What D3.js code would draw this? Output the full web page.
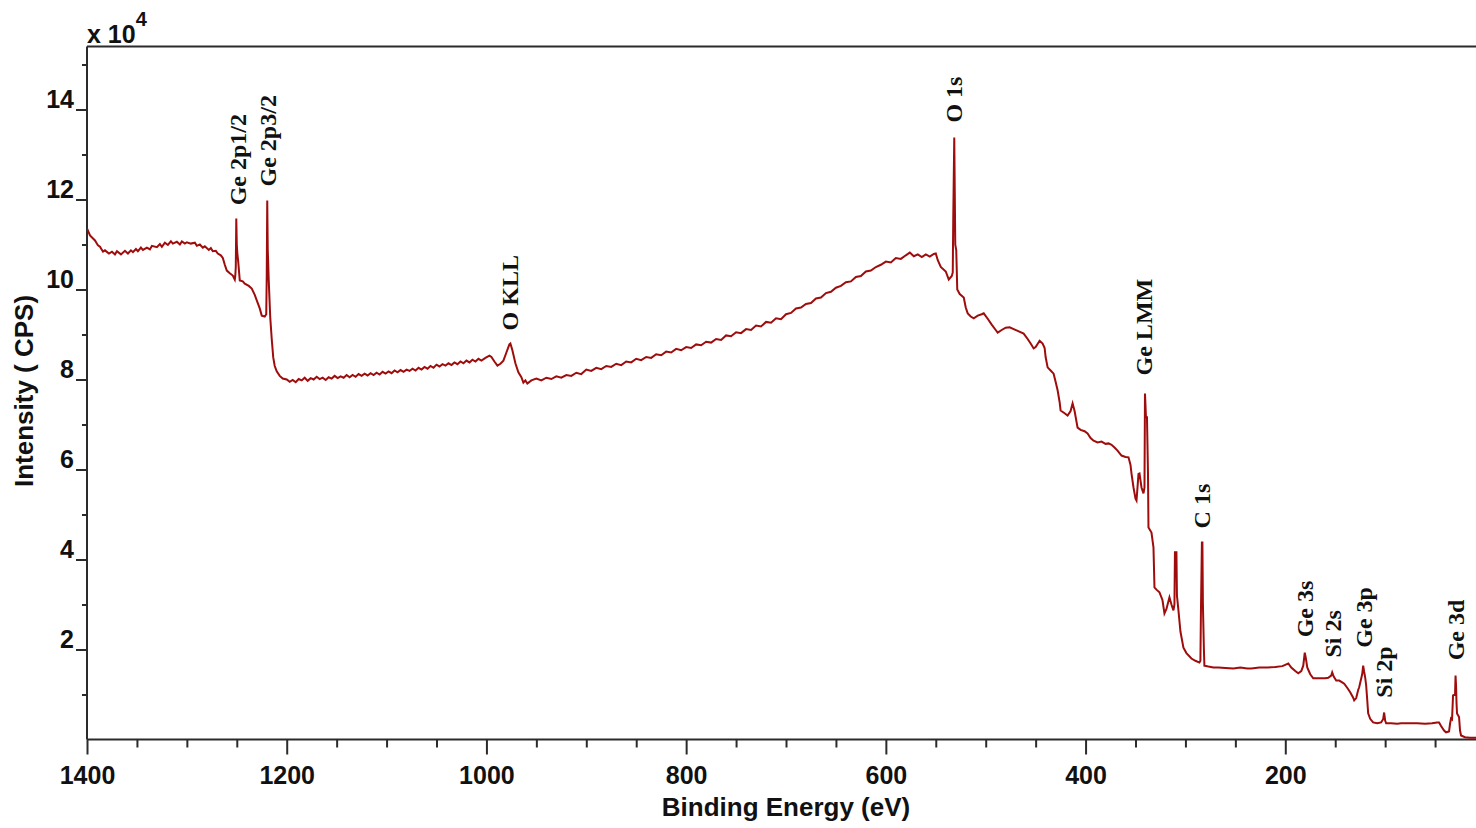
<!DOCTYPE html>
<html><head><meta charset="utf-8">
<script src="https://cdn.jsdelivr.net/npm/d3@7/dist/d3.min.js"></script>
<style>
html,body{margin:0;padding:0;background:#fff;}
svg{display:block;}
</style></head><body>
<svg id="chart" width="1476" height="828"></svg>
<script>
// Spectrum: [binding energy (eV), intensity (x10^4 CPS)]
const spectrumHigh = [
[1400,11.36],[1397,11.2],[1392,11.09],[1389,10.98],[1387,10.95],[1384,10.84],[1382,10.87],[1378,10.8],[1375,10.84],[1372,10.78],[1370,10.85],
[1366,10.78],[1362,10.86],[1359,10.8],[1356,10.87],[1354,10.83],[1351,10.9],[1349,10.85],[1346,10.93],[1344,10.88],[1340,10.93],[1337,10.89],[1335,10.97],
[1330,10.94],[1327,11.01],[1325,10.95],[1322,11.04],[1319,10.99],[1316,11.07],[1314,11.02],[1310,11.06],[1307,11.0],[1305,11.07],[1302,11.02],[1300,11.05],[1296,11.02],
[1292,11.04],[1290,10.97],[1287,11.0],[1284,10.93],[1282,10.96],[1278,10.88],[1276,10.92],[1274,10.85],[1271,10.86],[1269,10.8],[1266,10.76],[1264,10.7],
[1262,10.55],[1260,10.42],[1257,10.36],[1254,10.31],[1252,10.22],[1251.5,10.3],[1251,10.5],[1250.5,11.58],
[1250,11.0],[1249.5,10.82],[1248.5,10.6],[1247,10.2],[1244,10.18],[1242,10.13],[1238,10.08],[1235,10.02],
[1232,9.88],[1230,9.76],[1227,9.58],[1225,9.42],[1222,9.4],[1220.5,9.45],[1220,10.31],[1219.5,11.98],
[1219,10.9],[1218,10.2],[1216.5,9.38],[1215,8.9],[1213.5,8.49],[1212,8.3],[1210,8.18],[1207,8.08],
[1204,8.02],[1200,8.0],[1197,7.95],[1194,7.99],[1191,7.94],[1188,8.01],[1185,7.98],[1182,8.04],[1179,7.97],
[1176,8.03],[1173,8.0],[1170,8.06],[1167,8.01],[1164,8.04],[1161,7.99],[1158,8.05],[1155,8.02],[1152,8.08],
[1149,8.03],[1146,8.07],[1143,8.04],[1140,8.1],[1137,8.05],[1134,8.1],[1131,8.06],[1128,8.12],[1125,8.08],
[1122,8.13],[1119,8.09],[1116,8.14],[1113,8.1],[1110,8.15],[1107,8.11],[1104,8.17],[1101,8.13],[1098,8.18],
[1095,8.14],[1092,8.2],[1089,8.16],[1086,8.21],[1083,8.17],[1080,8.22],[1077,8.19],[1074,8.24],[1071,8.2],
[1068,8.26],[1065,8.22],[1062,8.28],[1059,8.24],[1056,8.3],[1053,8.26],[1050,8.33],[1047,8.29],[1044,8.34],
[1041,8.31],[1038,8.36],[1035,8.32],[1032,8.38],[1029,8.34],[1026,8.4],[1023,8.36],[1020,8.42],[1017,8.38],
[1014,8.44],[1011,8.4],[1008,8.46],[1005,8.42],[1001,8.48],[997,8.53],[995,8.5],[992,8.4],[989,8.31],
[986,8.35],[983,8.42],[980,8.6],[977,8.78],[976,8.8],[974,8.65],[971,8.36],[968,8.16],[965,8.05],
[963,7.93],[961,7.98],[959,7.91],[955,7.98]
];
const spectrumMid = [
[950,8.02],[945,7.98],[940,8.04],[935,8.01],[930,8.07],[925,8.04],[920,8.1],[915,8.08],[910,8.15],[905,8.12],
[900,8.22],[895,8.19],[890,8.26],[885,8.23],[880,8.3],[875,8.28],[870,8.35],[865,8.32],[860,8.4],[855,8.38],
[850,8.46],[845,8.43],[840,8.5],[835,8.48],[830,8.56],[825,8.54],[820,8.62],[815,8.6],[810,8.68],[805,8.65],
[800,8.72],[795,8.7],[790,8.78],[785,8.76],[780,8.84],[775,8.82],[770,8.9],[765,8.88],[760,8.98],[755,8.96],
[750,9.05],[745,9.03],[740,9.12],[735,9.1],[730,9.2],[725,9.18],[720,9.28],[715,9.26],[710,9.36],[705,9.34],
[700,9.45],[695,9.48],[690,9.58],[685,9.6],[680,9.68],[675,9.7],[670,9.8],[665,9.82],[660,9.92],[655,9.95],
[650,10.04],[645,10.08],[640,10.16],[635,10.18],[630,10.28],[625,10.3],[620,10.4],[615,10.42],[610,10.5],
[605,10.55],[600,10.62],[595,10.6],[590,10.7],[585,10.68],[580,10.76],[576,10.82],[572,10.74],[568,10.78],
[564,10.72],[560,10.78],[556,10.73],[552,10.79],[550,10.8],[548,10.65],
[545,10.5],[540,10.4],[537,10.22],[534,10.3],[533,10.38],[532.5,11.6],[531.5,13.38],[530.5,11.0],
[529.5,10.87],[528.5,10.0],[526,9.9],[522,9.82],[520,9.6],[518,9.47],[515,9.4],[512,9.36],[508,9.42],
[504,9.45],[502,9.47],[498,9.35],[494,9.22],[490,9.1],[488,9.04],[484,9.1],[480,9.15],[476,9.16],
[472,9.12],[468,9.08],[462,9.02],[458,8.9],[455,8.8],[452,8.69],[450,8.72],[446,8.86],[443,8.8],[441,8.7]
];
const spectrumLow = [
[440,8.5],[438,8.27],[435,8.2],[432,8.13],[430,7.95],[428,7.76],[426,7.5],[425,7.31],[421,7.25],
[418,7.2],[415,7.3],[413,7.47],[411,7.3],[408,6.93],[405,6.88],[401,6.85],[398,6.8],[395,6.7],
[392,6.64],[388,6.6],[384,6.62],[380,6.57],[377,6.58],[374,6.55],[371,6.49],[368,6.42],[364,6.31],
[360,6.28],[357,6.27],[355,6.1],[354,5.91],[352,5.6],[350,5.35],[349,5.31],[348,5.6],[347,5.9],
[346,5.91],[344,5.6],[342,5.47],[341,5.6],[340.5,7.69],[339.5,7.16],[338.5,7.16],[337.5,5.91],[337,4.71],
[334,4.6],[332,4.27],[331,3.38],[329,3.33],[326,3.27],[323,3.1],[321,2.8],[319,2.9],[316,3.16],
[314,3.0],[312,2.87],[311,3.0],[310.5,4.16],[309,4.16],[308.5,3.2],[307,2.87],[305,2.4],[302,2.04],
[299,1.92],[294,1.8],[290,1.75],[286,1.71],[285,1.75],[284.5,2.8],[283.5,4.38],[283,4.38],[282.5,3.02],
[281.5,2.0],[281,1.64],[277,1.62],[272,1.6],[267,1.6],[260,1.59],[252,1.58],[245,1.6],[238,1.58],
[234,1.58],[226,1.6],[218,1.6],[210,1.61],[203,1.63],[200,1.66],[197,1.69],[194,1.6],[190,1.52],
[187,1.47],[184,1.52],[182,1.64],[180.5,1.93],[179.5,1.82],[178,1.6],[177,1.55],[175,1.45],[172,1.36],
[168,1.36],[164,1.36],[160,1.36],[157,1.37],[154,1.42],[153,1.49],[151.5,1.4],[149,1.31],[146,1.31],
[143,1.27],[141,1.24],[138,1.15],[135,1.05],[132,0.93],[131,0.87],[129,0.92],[127,1.1],[126,1.16],
[123,1.45],[122,1.64],[121,1.5],[120,1.38],[119,1.2],[118,0.9],[117,0.58],[115,0.46],[112,0.38],
[108,0.36],[104,0.38],[102,0.45],[101,0.6],[100,0.42],[99,0.36],[94,0.36],[88,0.35],[84,0.36],
[76,0.36],[68,0.36],[60,0.35],[53,0.36],[48,0.38],[46,0.38],[44,0.3],[41,0.2],[39,0.16],[36,0.18],
[35,0.35],[34,0.47],[33,0.45],[32,0.98],[30,1.0],[29.5,1.42],[29,1.2],[28.5,0.8],[28,0.58],[26,0.5],
[25,0.2],[24,0.09],[20,0.05],[15,0.04],[8,0.04]
];

// Peak annotations
const peakNames = ["Ge 2p1/2","Ge 2p3/2","O KLL","O 1s","Ge LMM","C 1s","Ge 3s","Si 2s","Ge 3p","Si 2p","Ge 3d"];
const peakBE    = [1248.8, 1218.7, 976.4, 531.8, 341.5, 283.4, 180.3, 152.7, 121.2, 101.2, 29.1];
const peakLabelLevel = [11.87, 12.29, 9.09, 13.71, 8.09, 4.69, 2.27, 1.82, 2.04, 0.93, 1.76];

// Axis ticks
const xMajorTicks = [1400,1200,1000,800,600,400,200];
const xMinorTicks = [1350,1300,1250,1150,1100,1050,950,900,850,750,700,650,550,500,450,350,300,250,150,100,50];
const yMajorTicks = [2,4,6,8,10,12,14];
const yMinorTicks = [1,3,5,7,9,11,13,15];

(function draw() {
const svg = d3.select("#chart");
const pLeft = 87, pTop = 46.5, pBottom = 739.5;
const x = d3.scaleLinear().domain([1400, 0]).range([pLeft, 1485]);
const y = d3.scaleLinear().domain([0, 15.4]).range([pBottom, pTop]);

const axisColor = "#2b2b2b";
const lineColor = "#9e0c0c";
const sansFont = "'Liberation Sans', Arial, sans-serif";
const serifFont = "'Liberation Serif', 'Times New Roman', serif";

// top border
svg.append("line").attr("x1", pLeft).attr("x2", 1476).attr("y1", pTop).attr("y2", pTop)
  .attr("stroke", axisColor).attr("stroke-width", 2);

// x axis
const gx = svg.append("g").attr("transform", `translate(0,${pBottom})`);
gx.call(d3.axisBottom(x).tickValues(xMinorTicks).tickSize(8).tickSizeOuter(0).tickFormat(""));
gx.select(".domain").remove();
const gx2 = svg.append("g").attr("transform", `translate(0,${pBottom})`);
gx2.call(d3.axisBottom(x).tickValues(xMajorTicks).tickSize(15).tickSizeOuter(0).tickPadding(12).tickFormat(d3.format("d")));
gx2.select(".domain").attr("d", `M${pLeft},0H1476`);
[gx, gx2].forEach(g => {
  g.selectAll("line").attr("stroke", axisColor).attr("stroke-width", 2);
  g.selectAll(".domain").attr("stroke", axisColor).attr("stroke-width", 2);
  g.selectAll("text").attr("font-family", sansFont).attr("font-size", 25).attr("font-weight", "bold").attr("fill", "#111");
});

// y axis
const gy = svg.append("g").attr("transform", `translate(${pLeft},0)`);
gy.call(d3.axisLeft(y).tickValues(yMinorTicks).tickSize(5).tickSizeOuter(0).tickFormat(""));
gy.select(".domain").remove();
const gy2 = svg.append("g").attr("transform", `translate(${pLeft},0)`);
gy2.call(d3.axisLeft(y).tickValues(yMajorTicks).tickSize(11).tickSizeOuter(0).tickPadding(2).tickFormat(d3.format("d")));
gy2.select(".domain").attr("d", `M0,${pBottom}V${pTop}`);
[gy, gy2].forEach(g => {
  g.selectAll("line").attr("stroke", axisColor).attr("stroke-width", 2);
  g.selectAll(".domain").attr("stroke", axisColor).attr("stroke-width", 2);
  g.selectAll("text").attr("font-family", sansFont).attr("font-size", 25).attr("font-weight", "bold").attr("fill", "#111").attr("dy", "-0.1em");
});

// axis titles
svg.append("text").attr("x", 786).attr("y", 816).attr("text-anchor", "middle")
  .attr("font-family", sansFont).attr("font-size", 26).attr("font-weight", "bold").attr("fill", "#111")
  .text("Binding Energy (eV)");
svg.append("text").attr("transform", "translate(33,391) rotate(-90)").attr("text-anchor", "middle")
  .attr("font-family", sansFont).attr("font-size", 26).attr("font-weight", "bold").attr("fill", "#111")
  .text("Intensity ( CPS)");
const mult = svg.append("text").attr("x", 87).attr("y", 43)
  .attr("font-family", sansFont).attr("font-size", 25).attr("font-weight", "bold").attr("fill", "#111");
mult.append("tspan").text("x 10");
mult.append("tspan").attr("font-size", 20).attr("dy", -17).text("4");

// spectrum
svg.append("clipPath").attr("id", "plotclip").append("rect")
  .attr("x", pLeft).attr("y", pTop).attr("width", 1476 - pLeft).attr("height", pBottom - pTop);
const spectrum = spectrumHigh.concat(spectrumMid, spectrumLow);
svg.append("path").datum(spectrum)
  .attr("clip-path", "url(#plotclip)")
  .attr("fill", "none").attr("stroke", lineColor).attr("stroke-width", 2)
  .attr("stroke-linejoin", "miter")
  .attr("d", d3.line().x(d => x(d[0])).y(d => y(d[1])));

// peak labels
svg.append("g").selectAll("text").data(peakNames).join("text")
  .attr("transform", (d, i) => `translate(${x(peakBE[i]) + 8},${y(peakLabelLevel[i])}) rotate(-90)`)
  .attr("font-family", serifFont).attr("font-size", 24).attr("font-weight", "bold").attr("fill", "#111")
  .text(d => d);
})();
</script>
</body></html>
